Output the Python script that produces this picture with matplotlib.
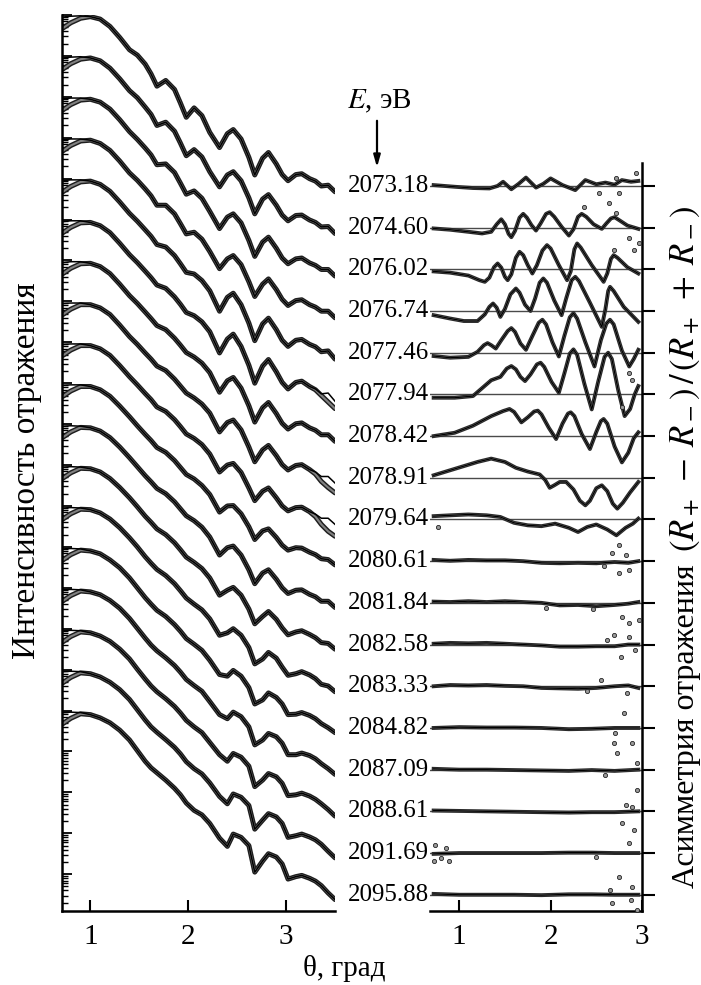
import numpy as np
import matplotlib
matplotlib.use("Agg")
import matplotlib.pyplot as plt
from matplotlib.ticker import LogLocator, NullFormatter

plt.rcParams['font.family'] = ['Liberation Serif', 'DejaVu Serif']
plt.rcParams['mathtext.fontset'] = 'stix'

# энергии (подписи строк)
energies = ['2073.18', '2074.60', '2076.02', '2076.74', '2077.46', '2077.94',
            '2078.42', '2078.91', '2079.64', '2080.61', '2081.84', '2082.58',
            '2083.33', '2084.82', '2087.09', '2088.61', '2091.69', '2095.88']

# ---------------- левая панель: кривые отражения (lg R, без сдвига) ----------------
theta_grid = [0.72, 0.80, 0.90, 1.00, 1.10, 1.20, 1.30, 1.40, 1.48, 1.56, 1.62, 1.68,
              1.77, 1.86, 1.92, 1.98, 2.06, 2.14, 2.22, 2.32, 2.40, 2.46, 2.54, 2.62,
              2.68, 2.76, 2.82, 2.90, 2.96, 3.02, 3.10, 3.16, 3.24, 3.30, 3.36, 3.43, 3.50]

r_2073_18 = [-0.05, -0.03, -0.02, -0.04, -0.10, -0.28, -0.55, -0.85, -0.98, -1.20, -1.44, -1.74, -1.60,
             -1.82, -2.15, -2.50, -2.27, -2.46, -2.87, -3.24, -2.90, -2.80, -3.03, -3.48, -3.91, -3.50,
             -3.36, -3.64, -3.90, -4.05, -3.90, -3.88, -4.00, -4.06, -4.18, -4.16, -4.32]
r_2074_60 = [-0.05, -0.03, -0.02, -0.05, -0.12, -0.30, -0.56, -0.85, -1.02, -1.25, -1.43, -1.70, -1.62,
             -1.84, -2.13, -2.44, -2.29, -2.47, -2.83, -3.20, -2.91, -2.83, -3.05, -3.47, -3.86, -3.50,
             -3.39, -3.65, -3.89, -4.03, -3.90, -3.89, -4.01, -4.07, -4.18, -4.17, -4.34]
r_2076_02 = [-0.05, -0.03, -0.03, -0.06, -0.13, -0.30, -0.56, -0.85, -1.04, -1.25, -1.42, -1.66, -1.64,
             -1.85, -2.11, -2.38, -2.30, -2.48, -2.80, -3.22, -2.94, -2.86, -3.08, -3.51, -3.90, -3.55,
             -3.43, -3.70, -3.94, -4.08, -3.96, -3.94, -4.06, -4.12, -4.22, -4.22, -4.38]
r_2076_74 = [-0.05, -0.03, -0.03, -0.06, -0.14, -0.31, -0.57, -0.86, -1.04, -1.25, -1.42, -1.65, -1.65,
             -1.86, -2.10, -2.35, -2.31, -2.48, -2.78, -3.20, -2.96, -2.88, -3.10, -3.52, -3.88, -3.58,
             -3.45, -3.71, -3.95, -4.10, -3.98, -3.96, -4.08, -4.14, -4.24, -4.24, -4.40]
r_2077_46 = [-0.05, -0.03, -0.03, -0.06, -0.14, -0.31, -0.57, -0.85, -1.04, -1.25, -1.41, -1.61, -1.67,
             -1.88, -2.08, -2.29, -2.33, -2.49, -2.74, -3.24, -2.90, -2.80, -3.08, -3.53, -3.96, -3.55,
             -3.41, -3.69, -3.95, -4.10, -3.95, -3.93, -4.05, -4.11, -4.23, -4.21, -4.41]
r_2077_94 = [-0.05, -0.03, -0.03, -0.07, -0.15, -0.32, -0.58, -0.86, -1.05, -1.26, -1.42, -1.60, -1.68,
             -1.89, -2.07, -2.27, -2.35, -2.50, -2.74, -3.26, -2.92, -2.80, -3.10, -3.56, -4.00, -3.58,
             -3.42, -3.72, -3.98, -4.14, -3.98, -3.95, -4.08, -4.14, -4.26, -4.24, -4.44]
r_2078_42 = [-0.05, -0.03, -0.03, -0.07, -0.15, -0.32, -0.58, -0.86, -1.05, -1.26, -1.42, -1.59, -1.69,
             -1.90, -2.07, -2.25, -2.36, -2.51, -2.74, -3.22, -2.94, -2.86, -3.12, -3.55, -3.95, -3.60,
             -3.47, -3.74, -3.98, -4.12, -3.99, -3.97, -4.09, -4.15, -4.26, -4.26, -4.42]
r_2078_91 = [-0.05, -0.04, -0.04, -0.08, -0.16, -0.32, -0.58, -0.86, -1.05, -1.26, -1.41, -1.58, -1.69,
             -1.90, -2.07, -2.24, -2.36, -2.51, -2.73, -3.19, -2.96, -2.90, -3.14, -3.56, -3.92, -3.63,
             -3.52, -3.77, -3.99, -4.12, -4.01, -3.99, -4.11, -4.17, -4.28, -4.28, -4.44]
r_2079_64 = [-0.05, -0.04, -0.04, -0.08, -0.16, -0.32, -0.57, -0.84, -1.04, -1.25, -1.40, -1.58, -1.69,
             -1.89, -2.06, -2.24, -2.35, -2.50, -2.73, -3.17, -3.00, -2.96, -3.18, -3.56, -3.87, -3.64,
             -3.56, -3.80, -4.00, -4.12, -4.04, -4.03, -4.14, -4.20, -4.30, -4.30, -4.45]
r_2080_61 = [-0.05, -0.04, -0.04, -0.08, -0.16, -0.32, -0.56, -0.82, -1.04, -1.25, -1.40, -1.57, -1.69,
             -1.89, -2.06, -2.23, -2.34, -2.50, -2.72, -3.15, -3.00, -2.99, -3.19, -3.51, -3.82, -3.61,
             -3.56, -3.77, -3.96, -4.08, -4.02, -4.03, -4.13, -4.19, -4.29, -4.31, -4.44]
r_2081_84 = [-0.05, -0.04, -0.05, -0.09, -0.17, -0.33, -0.56, -0.82, -1.04, -1.26, -1.41, -1.57, -1.70,
             -1.90, -2.07, -2.24, -2.36, -2.52, -2.76, -3.20, -3.02, -2.98, -3.20, -3.56, -3.90, -3.64,
             -3.56, -3.79, -4.00, -4.14, -4.06, -4.05, -4.16, -4.22, -4.33, -4.33, -4.48]
r_2082_58 = [-0.05, -0.04, -0.05, -0.09, -0.17, -0.33, -0.55, -0.80, -1.02, -1.25, -1.40, -1.56, -1.70,
             -1.90, -2.07, -2.25, -2.38, -2.53, -2.76, -3.18, -3.06, -2.99, -3.18, -3.52, -3.88, -3.70,
             -3.58, -3.77, -3.98, -4.15, -4.08, -4.05, -4.14, -4.22, -4.34, -4.36, -4.50]
r_2083_33 = [-0.05, -0.04, -0.05, -0.09, -0.17, -0.32, -0.53, -0.78, -1.00, -1.24, -1.40, -1.55, -1.70,
             -1.90, -2.07, -2.25, -2.40, -2.54, -2.76, -3.16, -3.10, -3.00, -3.16, -3.46, -3.86, -3.74,
             -3.58, -3.72, -3.94, -4.14, -4.10, -4.05, -4.13, -4.22, -4.36, -4.40, -4.54]
r_2084_82 = [-0.05, -0.04, -0.05, -0.10, -0.17, -0.32, -0.51, -0.76, -1.00, -1.24, -1.40, -1.55, -1.70,
             -1.90, -2.06, -2.24, -2.38, -2.53, -2.77, -3.12, -3.16, -3.02, -3.16, -3.44, -3.84, -3.74,
             -3.57, -3.68, -3.84, -4.10, -4.09, -4.05, -4.12, -4.20, -4.32, -4.42, -4.54]
r_2087_09 = [-0.05, -0.04, -0.05, -0.10, -0.17, -0.31, -0.50, -0.75, -0.99, -1.23, -1.40, -1.54, -1.71,
             -1.90, -2.06, -2.24, -2.39, -2.53, -2.78, -3.10, -3.20, -3.04, -3.15, -3.40, -3.84, -3.72,
             -3.56, -3.64, -3.80, -4.08, -4.08, -4.04, -4.10, -4.18, -4.30, -4.42, -4.56]
r_2088_61 = [-0.05, -0.04, -0.05, -0.10, -0.18, -0.31, -0.50, -0.74, -0.99, -1.23, -1.40, -1.54, -1.71,
             -1.90, -2.06, -2.24, -2.40, -2.54, -2.78, -3.08, -3.24, -3.05, -3.14, -3.36, -3.86, -3.70,
             -3.54, -3.62, -3.78, -4.08, -4.06, -4.02, -4.09, -4.17, -4.28, -4.42, -4.58]
r_2091_69 = [-0.05, -0.04, -0.05, -0.10, -0.18, -0.31, -0.49, -0.73, -0.98, -1.23, -1.40, -1.53, -1.71,
             -1.90, -2.06, -2.25, -2.42, -2.55, -2.77, -3.10, -3.28, -3.04, -3.12, -3.32, -3.90, -3.68,
             -3.52, -3.60, -3.76, -4.10, -4.06, -4.02, -4.09, -4.16, -4.27, -4.44, -4.60]
r_2095_88 = [-0.05, -0.04, -0.05, -0.10, -0.18, -0.30, -0.48, -0.72, -0.98, -1.24, -1.40, -1.52, -1.70,
             -1.90, -2.06, -2.26, -2.44, -2.55, -2.76, -3.12, -3.32, -3.02, -3.10, -3.30, -3.95, -3.68,
             -3.50, -3.58, -3.75, -4.12, -4.06, -4.03, -4.10, -4.17, -4.28, -4.46, -4.62]

refl = [r_2073_18, r_2074_60, r_2076_02, r_2076_74, r_2077_46, r_2077_94,
        r_2078_42, r_2078_91, r_2079_64, r_2080_61, r_2081_84, r_2082_58,
        r_2083_33, r_2084_82, r_2087_09, r_2088_61, r_2091_69, r_2095_88]

# измеренные точки при малых углах идут ниже расчёта
data_low_theta = [0.72, 0.80, 0.90]
data_low_vals = [-0.32, -0.19, -0.08]

# расхождение данных и расчёта в конце некоторых кривых
tail_theta = [3.24, 3.30, 3.36, 3.43, 3.50]
tail_2077_94 = [-4.08, -4.16, -4.30, -4.46, -4.62]
tail_2078_91 = [-4.11, -4.22, -4.40, -4.55, -4.68]
tail_2079_64 = [-4.14, -4.26, -4.45, -4.62, -4.74]
tails = {5: tail_2077_94, 7: tail_2078_91, 8: tail_2079_64}

# ---------------- правая панель: асимметрия (в долях шага между строками) ----------------
a_th_0 = [0.72, 0.95, 1.15, 1.33, 1.42, 1.48, 1.57, 1.65, 1.73, 1.84, 1.92, 2.00, 2.13, 2.27, 2.38,
          2.50, 2.60, 2.70, 2.78, 2.88, 2.96]
a_v_0 = [0.02, -0.02, -0.05, -0.06, 0.00, 0.10, -0.08, 0.05, 0.20, -0.04, 0.05, 0.18, 0.02, -0.10,
         0.14, 0.04, 0.08, 0.03, 0.14, 0.10, 0.12]
a_th_1 = [0.72, 0.90, 1.10, 1.25, 1.35, 1.41, 1.46, 1.50, 1.54, 1.57, 1.61, 1.66, 1.70, 1.74, 1.79,
          1.84, 1.89, 1.95, 1.99, 2.04, 2.12, 2.20, 2.25, 2.30, 2.34, 2.39, 2.47, 2.56, 2.61, 2.66,
          2.70, 2.75, 2.84, 2.96]
a_v_1 = [-0.02, -0.05, -0.10, -0.14, -0.10, 0.08, 0.20, 0.08, -0.15, -0.23, -0.08, 0.24, 0.33, 0.24,
         0.06, -0.07, 0.10, 0.33, 0.37, 0.26, 0.02, -0.19, -0.04, 0.26, 0.33, 0.26, 0.08, -0.03, 0.10,
         0.22, 0.25, 0.18, 0.05, -0.03]
a_th_2 = [0.72, 0.90, 1.10, 1.22, 1.28, 1.33, 1.38, 1.42, 1.46, 1.50, 1.53, 1.57, 1.62, 1.66, 1.70,
          1.75, 1.80, 1.85, 1.91, 1.96, 2.00, 2.09, 2.18, 2.22, 2.26, 2.29, 2.33, 2.45, 2.58, 2.62,
          2.66, 2.69, 2.73, 2.84, 2.96]
a_v_2 = [-0.05, -0.08, -0.15, -0.26, -0.30, -0.20, 0.05, 0.14, 0.04, -0.18, -0.26, -0.12, 0.28, 0.42,
         0.34, 0.10, -0.10, 0.10, 0.45, 0.58, 0.50, 0.10, -0.26, -0.05, 0.48, 0.62, 0.52, 0.10, -0.30,
         -0.10, 0.25, 0.34, 0.28, 0.05, -0.10]
a_th_3 = [0.72, 0.90, 1.05, 1.20, 1.28, 1.33, 1.37, 1.41, 1.45, 1.50, 1.56, 1.62, 1.66, 1.72, 1.78,
          1.83, 1.88, 1.92, 1.96, 2.04, 2.12, 2.17, 2.23, 2.27, 2.31, 2.43, 2.56, 2.60, 2.63, 2.65,
          2.69, 2.80, 2.96]
a_v_3 = [-0.10, -0.18, -0.24, -0.24, -0.08, 0.10, 0.18, 0.08, -0.14, 0.05, 0.40, 0.54, 0.44, 0.15,
         0.00, 0.30, 0.68, 0.78, 0.68, 0.25, -0.10, 0.30, 0.74, 0.82, 0.72, 0.20, -0.38, 0.05, 0.48,
         0.58, 0.48, 0.10, -0.26]
a_th_4 = [0.72, 0.90, 1.10, 1.20, 1.27, 1.31, 1.35, 1.40, 1.46, 1.53, 1.57, 1.61, 1.67, 1.73, 1.80,
          1.87, 1.91, 1.95, 2.02, 2.09, 2.15, 2.21, 2.25, 2.29, 2.38, 2.48, 2.55, 2.61, 2.65, 2.69,
          2.78, 2.86, 2.91, 2.96]
a_v_4 = [-0.08, -0.12, -0.10, 0.02, 0.18, 0.23, 0.18, 0.10, 0.30, 0.52, 0.59, 0.50, 0.22, 0.07, 0.40,
         0.72, 0.79, 0.68, 0.25, -0.09, 0.40, 0.85, 0.95, 0.82, 0.25, -0.33, 0.30, 0.70, 0.79, 0.68,
         0.05, -0.33, -0.15, 0.07]
a_th_5 = [0.72, 0.95, 1.15, 1.25, 1.35, 1.45, 1.52, 1.57, 1.62, 1.67, 1.72, 1.78, 1.85, 1.89, 1.93,
          2.01, 2.09, 2.15, 2.21, 2.25, 2.29, 2.37, 2.45, 2.52, 2.59, 2.63, 2.67, 2.74, 2.81, 2.87,
          2.92, 2.96]
a_v_5 = [-0.08, -0.08, -0.04, 0.15, 0.34, 0.42, 0.62, 0.68, 0.60, 0.42, 0.32, 0.48, 0.72, 0.76, 0.66,
         0.30, 0.04, 0.50, 0.98, 1.08, 0.95, 0.25, -0.36, 0.30, 0.90, 1.00, 0.85, 0.10, -0.52, -0.35,
         0.00, 0.20]
a_th_6 = [0.72, 0.95, 1.15, 1.35, 1.48, 1.55, 1.60, 1.68, 1.75, 1.82, 1.86, 1.90, 1.98, 2.06, 2.13,
          2.19, 2.22, 2.26, 2.34, 2.43, 2.50, 2.55, 2.58, 2.62, 2.70, 2.78, 2.85, 2.91, 2.96]
a_v_6 = [0.00, 0.08, 0.25, 0.48, 0.60, 0.65, 0.58, 0.33, 0.45, 0.59, 0.61, 0.52, 0.20, -0.07, 0.30,
         0.54, 0.57, 0.48, 0.05, -0.31, 0.10, 0.36, 0.41, 0.30, -0.25, -0.63, -0.40, -0.05, 0.09]
a_th_7 = [0.72, 0.90, 1.05, 1.20, 1.35, 1.50, 1.62, 1.75, 1.88, 1.94, 1.99, 2.04, 2.10, 2.17, 2.25,
          2.32, 2.38, 2.43, 2.50, 2.56, 2.62, 2.68, 2.73, 2.79, 2.87, 2.96]
a_v_7 = [0.06, 0.18, 0.28, 0.38, 0.46, 0.38, 0.24, 0.15, 0.08, -0.05, -0.24, -0.18, -0.10, -0.10,
         -0.28, -0.55, -0.66, -0.55, -0.25, -0.18, -0.32, -0.62, -0.74, -0.60, -0.35, -0.10]
a_th_8 = [0.72, 0.90, 1.10, 1.30, 1.45, 1.60, 1.75, 1.90, 2.05, 2.20, 2.30, 2.40, 2.50, 2.62, 2.72,
          2.82, 2.90, 2.96]
a_v_8 = [0.08, 0.10, 0.12, 0.10, 0.06, -0.08, -0.14, -0.16, -0.10, -0.20, -0.30, -0.18, -0.12, -0.24,
         -0.38, -0.20, -0.10, 0.02]
a_th_9 = [0.72, 0.90, 1.10, 1.30, 1.50, 1.70, 1.90, 2.10, 2.30, 2.50, 2.70, 2.85, 2.96]
a_v_9 = [0.03, 0.01, 0.03, 0.02, 0.02, 0.00, -0.04, -0.05, -0.04, -0.05, -0.02, -0.04, 0.00]
a_th_10 = [0.72, 0.90, 1.10, 1.30, 1.50, 1.70, 1.90, 2.10, 2.30, 2.50, 2.70, 2.85, 2.96]
a_v_10 = [0.03, 0.02, 0.04, 0.02, 0.04, 0.02, 0.00, -0.06, -0.05, -0.08, -0.05, -0.02, 0.02]
a_th_11 = [0.72, 0.90, 1.10, 1.30, 1.50, 1.70, 1.90, 2.10, 2.30, 2.50, 2.70, 2.85, 2.96]
a_v_11 = [0.02, 0.04, 0.03, 0.04, 0.02, 0.00, -0.02, -0.05, -0.05, -0.04, -0.04, 0.00, 0.00]
a_th_12 = [0.72, 0.90, 1.10, 1.30, 1.50, 1.70, 1.90, 2.10, 2.30, 2.50, 2.70, 2.85, 2.96]
a_v_12 = [0.00, 0.03, 0.02, 0.03, 0.01, 0.00, -0.04, -0.05, -0.06, -0.04, 0.00, 0.02, -0.04]
a_th_13 = [0.72, 1.00, 1.30, 1.60, 1.90, 2.20, 2.45, 2.70, 2.96]
a_v_13 = [0.00, 0.02, 0.01, 0.01, 0.00, -0.03, -0.02, 0.00, 0.00]
a_th_14 = [0.72, 1.00, 1.30, 1.60, 1.90, 2.20, 2.45, 2.70, 2.96]
a_v_14 = [0.02, 0.00, 0.00, -0.01, -0.02, -0.03, -0.01, -0.03, 0.00]
a_th_15 = [0.72, 1.00, 1.30, 1.60, 1.90, 2.20, 2.45, 2.70, 2.96]
a_v_15 = [0.02, 0.01, 0.00, -0.01, -0.02, -0.03, -0.02, -0.02, 0.00]
a_th_16 = [0.72, 1.00, 1.30, 1.60, 1.90, 2.20, 2.45, 2.70, 2.96]
a_v_16 = [-0.02, 0.00, 0.00, 0.00, 0.00, 0.01, 0.01, 0.00, 0.00]
a_th_17 = [0.72, 1.00, 1.30, 1.60, 1.90, 2.20, 2.45, 2.70, 2.96]
a_v_17 = [0.02, 0.00, 0.00, 0.00, -0.01, 0.01, 0.01, 0.00, 0.00]

asym_theta = [a_th_0, a_th_1, a_th_2, a_th_3, a_th_4, a_th_5, a_th_6, a_th_7, a_th_8,
              a_th_9, a_th_10, a_th_11, a_th_12, a_th_13, a_th_14, a_th_15, a_th_16, a_th_17]
asym_vals = [a_v_0, a_v_1, a_v_2, a_v_3, a_v_4, a_v_5, a_v_6, a_v_7, a_v_8,
             a_v_9, a_v_10, a_v_11, a_v_12, a_v_13, a_v_14, a_v_15, a_v_16, a_v_17]

# выпадающие точки (абсолютное положение в единицах строк)
out_theta = [2.93, 2.71, 2.53, 2.75, 2.36, 2.64, 2.71, 2.86, 2.91, 2.97, 2.69, 2.86, 2.78, 2.89,
             2.75, 0.77, 2.67, 2.75, 2.86, 2.78, 2.86, 2.97, 2.86, 2.69, 2.77, 2.80, 2.69, 2.73,
             2.89, 2.94, 2.89, 2.78, 2.91, 2.86, 0.74, 0.72, 0.89, 2.75, 2.89, 2.94, 2.67,
             2.58, 2.82, 2.46, 1.95, 2.62, 2.92, 2.55, 2.84, 2.40, 2.70, 2.95, 2.60, 2.83,
             0.80, 0.85, 2.50, 2.88, 2.65]
out_y = [0.31, 0.19, -0.17, -0.17, -0.50, -0.41, -0.65, -1.25, -1.53, -1.37, -1.53, -4.48, -5.30,
         -4.65, -8.61, -8.18, -8.80, -9.28, -9.21, -10.34, -10.48, -10.40, -10.82, -10.77, -11.30,
         -12.64, -13.36, -13.60, -13.36, -14.48, -14.89, -15.28, -15.44, -15.76, -15.80, -16.20,
         -16.20, -16.57, -16.81, -17.36, -17.20,
         -9.12, -8.86, -10.14, -10.12, -10.88, -11.12, -11.84, -12.16, -12.12, -13.12, -13.84,
         -14.14, -14.84, -16.12, -15.88, -16.10, -17.12, -16.88]

# ---------------- рисунок ----------------
W, H = 701, 985
fig = plt.figure(figsize=(W / 100, H / 100), dpi=100)
axL = fig.add_axes([62 / W, 1 - 911 / H, (335 - 62) / W, (911 - 15) / H])
axR = fig.add_axes([430 / W, 1 - 911 / H, (642 - 430) / W, (911 - 163) / H])

# левая панель
for k, vals in enumerate(refl):
    off = 10.0 ** (-k)
    d_th = data_low_theta + theta_grid[3:]
    d_v = data_low_vals + vals[3:]
    if k in tails:
        d_th = d_th[:-5] + tail_theta
        d_v = d_v[:-5] + tails[k]
    d_y = off * 10.0 ** np.array(d_v)
    axL.plot(d_th, d_y, color='#1e1e1e', lw=3.6, solid_capstyle='round', solid_joinstyle='round')
    axL.plot(d_th, d_y, color='#808080', lw=1.5, solid_joinstyle='round')
    axL.plot(theta_grid, off * 10.0 ** np.array(vals), color='k', lw=1.1)

axL.set_yscale('log')
axL.set_xlim(0.71, 3.5)
axL.set_ylim(10 ** -21.9, 10 ** 0)
axL.yaxis.set_major_locator(LogLocator(base=10, numticks=40))
axL.yaxis.set_minor_locator(LogLocator(base=10, subs=np.arange(2, 10), numticks=40))
axL.yaxis.set_major_formatter(NullFormatter())
axL.yaxis.set_minor_formatter(NullFormatter())
axL.tick_params(axis='y', which='major', direction='in', length=7, width=1.3)
axL.tick_params(axis='y', which='minor', direction='in', length=4, width=1.0)
axL.set_xticks([1, 2, 3])
axL.tick_params(axis='x', direction='in', length=8, width=1.5, labelsize=21, pad=9)
for s in ['top', 'right']:
    axL.spines[s].set_visible(False)
for s in ['left', 'bottom']:
    axL.spines[s].set_linewidth(1.8)

# правая панель
for k in range(len(energies)):
    axR.axhline(-k, color='#4a4a4a', lw=1.0, zorder=1)
    th = asym_theta[k]
    y = -k + np.array(asym_vals[k])
    axR.plot(th, y, color='#2a2a2a', lw=2.8, solid_joinstyle='round', zorder=2)
    axR.plot(th, y, color='#8a8a8a', lw=1.0, zorder=3)
    axR.plot(th, y, color='k', lw=0.9, zorder=4)
    axR.text(-0.005, -k, energies[k], transform=axR.get_yaxis_transform(),
             ha='right', va='center', fontsize=18)

axR.plot(out_theta, out_y, 'o', ms=3, mfc='#9a9a9a', mec='#222222', mew=0.6, zorder=5,
         clip_on=False)

axR.set_xlim(0.68, 3.0)
axR.set_ylim(-17.39, 0.55)
axR.set_xticks([1, 2, 3])
axR.tick_params(axis='x', direction='in', length=8, width=1.5, labelsize=21, pad=9)
axR.yaxis.tick_right()
axR.set_yticks([-k for k in range(len(energies))])
axR.set_yticklabels([])
axR.tick_params(axis='y', direction='out', length=9, width=1.5)
for s in ['top', 'left']:
    axR.spines[s].set_visible(False)
for s in ['right', 'bottom']:
    axR.spines[s].set_linewidth(1.8)

# подписи
fig.text(35 / W, 1 - 471 / H, 'Интенсивность отражения', rotation=90,
         rotation_mode='anchor', ha='center', va='baseline', fontsize=24)
fig.text(694 / W, 1 - 888 / H, 'Асимметрия отражения', rotation=90,
         rotation_mode='anchor', ha='left', va='baseline', fontsize=23)
fig.text(694 / W, 1 - 552 / H, r'$(R_+\;-\;R_-)\,/\,(R_+\;+\;R_-)$', rotation=90,
         rotation_mode='anchor', ha='left', va='baseline', fontsize=25)
fig.text(344 / W, 1 - 968 / H, 'θ, град', ha='center', va='center', fontsize=21)
fig.text(379 / W, 1 - 101 / H, '$E$, эВ', ha='center', va='center', fontsize=21)
axR.annotate('', xy=(377 / W, 1 - 170 / H), xytext=(377 / W, 1 - 118 / H),
             xycoords='figure fraction', textcoords='figure fraction',
             arrowprops=dict(arrowstyle='-|>,head_length=0.7,head_width=0.2',
                             color='k', lw=1.6))

fig.savefig('out.png', dpi=100)
